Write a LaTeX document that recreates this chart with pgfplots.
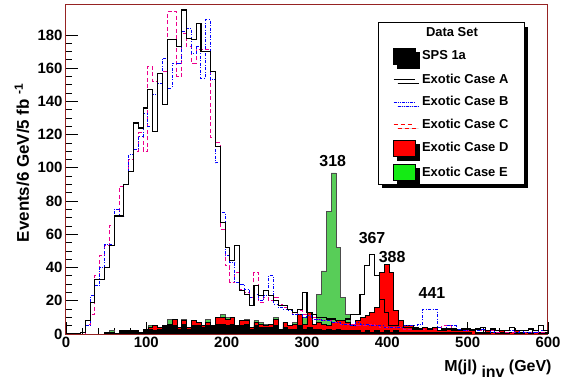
\documentclass[border=0pt]{standalone}
\usepackage{pgfplots}
\pgfplotsset{compat=1.18}
\usepackage{pgfplotstable}
\usepackage{fontspec}
\setmainfont{Liberation Sans}
\usetikzlibrary{shadows}

\definecolor{frameRed}{RGB}{150,35,35}
\definecolor{histGreen}{RGB}{88,205,88}
\definecolor{legGreen}{RGB}{20,235,20}

\pgfplotsset{
  boxleg/.style={legend image code/.code={\draw[##1] (0bp,-8bp) rectangle (22bp,8bp);}},
  lineleg/.style={legend image code/.code={\draw[##1] (0bp,0bp) -- (21bp,0bp);}},
}

% bins of 6 GeV, x = left edge
\pgfplotstableread{
x   sps a   b   c   d   e
0   0   0   0   0   0   0
6   0   0   0   0   0   0
12  0   0   0   0   0   0
18  0   1   1   0   0   0
24  0   8   5   6   0   0
30  0   19  23  12  0   0
36  0   33  29  35  0   0
42  0   33  40  47  0   0
48  1   40  54  53  0   0
54  1   53  54  65  0   2
60  0.5 71  75  71  0   0
66  2   71  71  89  1   0
72  2   90  90  90  0   0
78  2   98  108 105 0   2
84  2   127 111 110 0   0
90  1   124 119 121 1   0
96  3   136 133 110 2   0
102 3   147 125 161 4   5
108 2   122 144 152 5   5
114 3   157 151 151 4   0
120 5   138 166 158 4   0
126 5   177 148 194 6   9
132 5   177 163 194 9   0
138 3   173 163 155 4   2
144 6   195 182 181 8   9
150 3   178 184 173 4   0
156 5   177 169 163 8   0
162 5   187 173 171 7   0
168 4   170 154 171 5   0
174 5   170 189 171 7   9
180 5   158 153 118 5   0
186 6   113 103 115 10  0
192 6   67  73  63  10  12
198 5   52  47  41  9   10
204 6   44  43  31  10  0
210 5   53  31  37  5   0
216 5   26  30  27  8   0
222 6   24  27  25  8   9
228 3   17  22  22  4   0
234 5   29  24  37  7   8
240 4   23  20  19  6   7
246 4   26  23  22  5   6
252 4   23  35  20  6   0
258 5   20  18  22  9   10
264 2   17  16  18  3   0
270 4   17  15  16  7   0
276 3   15  14  15  5   0
282 3   13  12  12  6   7
288 5   15  12  14  12  0
294 3   25  10  12  6   10
300 4   13  11  11  13  0
306 3   12  9   10  6   3
312 3   10  9   9   7   24
318 2   10  8   8   6   38
324 3   9   8   8   5   74
330 2   9   7   7   7   97
336 3   8   7   7   8   52
342 2   8   6   6   8   22
348 2   9   6   6   7   12
354 2   12  5   6   5   4
360 2   12  7   5   8   3
366 1   24  6   5   10  0
372 2   41  6   5   11  0
378 1   48  5   6   13  2
384 2   35  5   5   16  0
390 1   21  5   4   37  0
396 2   13  4   4   42  0
402 1   5   4   4   37  1
408 2   5   4   4   14  0
414 1   8   4   4   8   0
420 1   4   5   3   5   1
426 1   4   5   3   5   0
432 1   3   5   3   4   0
438 1   3   6   3   3   0
444 1   4   15  3   4   0
450 1   3   15  3   3   1
456 1   4   15  3   4   0
462 1   2   4   4   2   0
468 1   3   3   5   2   1
474 1   3   5   5   3   0
480 1   3   5   3   2   0
486 1   2   3   2   3   1
492 1   3   2   2   2   0
498 1   3   2   2   2   0
504 0   2   2   2   3   0
510 1   3   2   2   1   1
516 1   4   3   2   1   1
522 1   2   2   2   2   0
528 0   3   1   2   1   0
534 1   2   2   1   1   1
540 1   2   2   2   2   0
546 1   2   2   1   1   0
552 0   4   2   1   1   1
558 1   2   1   1   2   0
564 1   2   2   2   1   0
570 0   2   1   1   1   0
576 1   3   1   1   1   1
582 0   2   1   1   1   0
588 1   5   2   1   1   0
594 1   2   2   1   1   0
600 1   2   2   1   1   0
}\hist

\begin{document}
\begin{tikzpicture}
\begin{axis}[
    scale only axis,
    width=482bp, height=329bp,
    xmin=0, xmax=600, ymin=0, ymax=198,
    xtick={0,100,...,600},
    ytick={0,20,...,180},
    minor x tick num=4,
    minor y tick num=3,
    tick align=inside,
    xtick pos=bottom, ytick pos=left,
    major tick length=12bp,
    minor tick length=6bp,
    tick style={black, line width=0.8bp},
    axis line style={draw=frameRed, line width=1bp},
    /pgf/number format/assume math mode=true,
    ticklabel style={font=\fontsize{15}{15}\selectfont\bfseries},
    xlabel={M(jl)~\raisebox{-6bp}{inv}~(GeV)},
    xlabel style={at={(axis description cs:1,0)}, anchor=base east,
                  xshift=7bp, yshift=-37bp, font=\fontsize{16}{16}\selectfont\bfseries},
    ylabel={Events/6 GeV/5 fb~\raisebox{6bp}{\fontsize{12}{12}\selectfont -1}},
    ylabel style={at={(axis description cs:-0.0913,0.52)}, anchor=center,
                  font=\fontsize{17}{17}\selectfont\bfseries},
    legend style={at={(axis description cs:0.647,0.948)}, anchor=north west,
                  draw=black, fill=white, line width=0.8bp,
                  font=\fontsize{13}{13}\selectfont\bfseries,
                  inner xsep=6bp, inner ysep=3bp, row sep=7.5bp, column sep=5bp,
                  minimum width=146bp,
                  nodes={inner sep=1bp, text height=10bp, text depth=3bp, minimum width=0pt},
                  drop shadow={shadow xshift=4bp, shadow yshift=-4bp, fill=black, opacity=1}},
    legend cell align=left,
    clip=true,
]
% filled histograms
\addplot[const plot, fill=histGreen, draw=black!70, line width=0.6bp, forget plot]
    table[x=x, y=e] {\hist} \closedcycle;
\addplot[const plot, fill=red, draw=black, line width=0.6bp, forget plot]
    table[x=x, y=d] {\hist} \closedcycle;
\addplot[const plot, fill=black, draw=black, line width=0.6bp, forget plot]
    table[x=x, y=sps] {\hist} \closedcycle;
% line histograms
\addplot[const plot, magenta, line width=1bp, dash pattern=on 4bp off 2.5bp, forget plot]
    table[x=x, y=c] {\hist};
\addplot[const plot, blue, line width=1bp, dash pattern=on 3bp off 1.5bp on 1bp off 1.5bp, forget plot]
    table[x=x, y=b] {\hist};
\addplot[const plot, black, line width=1.1bp, forget plot]
    table[x=x, y=a] {\hist};

\addlegendimage{empty legend}\addlegendentry{\hspace*{4bp}Data Set}
\addlegendimage{boxleg, fill=black, draw=black}\addlegendentry{SPS 1a}
\addlegendimage{lineleg, black, line width=1bp}\addlegendentry{Exotic Case A}
\addlegendimage{lineleg, blue, line width=1bp, dash pattern=on 3bp off 1bp on 1bp off 1bp on 1bp off 1bp}\addlegendentry{Exotic Case B}
\addlegendimage{lineleg, red, line width=1bp, dash pattern=on 4bp off 3bp}\addlegendentry{Exotic Case C}
\addlegendimage{boxleg, fill=red, draw=black}\addlegendentry{Exotic Case D}
\addlegendimage{boxleg, fill=legGreen, draw=black}\addlegendentry{Exotic Case E}

\node[font=\fontsize{16}{16}\selectfont\bfseries] at (axis cs:332,104) {318};
\node[font=\fontsize{16}{16}\selectfont\bfseries] at (axis cs:381,57.6) {367};
\node[font=\fontsize{16}{16}\selectfont\bfseries] at (axis cs:406,46.2) {388};
\node[font=\fontsize{16}{16}\selectfont\bfseries] at (axis cs:455.6,24.6) {441};
\end{axis}
\pgfresetboundingbox
\path[use as bounding box] (-66bp,-47bp) rectangle (502bp,334bp);
\end{tikzpicture}
\end{document}
